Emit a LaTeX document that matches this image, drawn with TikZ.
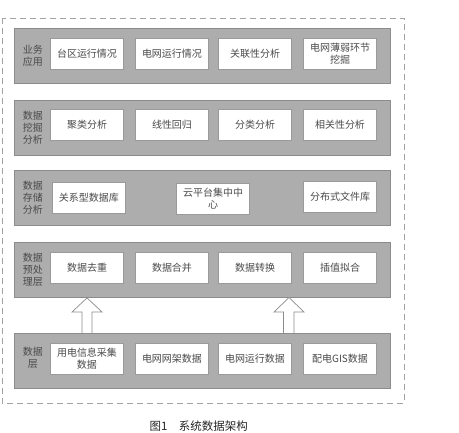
\documentclass[tikz,border=0pt]{standalone}
\usepackage{fontspec}
\newfontfamily\cjk{Noto Sans CJK SC}
\definecolor{bandfill}{HTML}{ADADAD}
\definecolor{bandline}{HTML}{8C8C8C}
\definecolor{cellline}{HTML}{9A9A9A}
\definecolor{txt}{HTML}{4A4A4A}
\begin{document}
\begin{tikzpicture}[x=1pt,y=-1pt,
  band/.style={draw=bandline,line width=0.8pt,fill=bandfill,minimum width=376pt,minimum height=55pt,inner sep=0pt},
  cell/.style={draw=cellline,line width=0.6pt,fill=white,minimum width=73pt,minimum height=31pt,inner sep=1pt,align=center,font=\cjk\fontsize{10}{11.5}\selectfont,text=txt},
  lbl/.style={align=center,font=\cjk\fontsize{10}{12}\selectfont,text=txt,inner sep=0pt},
  hollow/.style={draw=bandline,line width=0.7pt,fill=white},
  outer/.style={draw=bandline!80,dashed,dash pattern=on 6pt off 4pt,line width=0.6pt}]
\useasboundingbox (0,0) rectangle (459,433);
\draw[outer] (2,18) rectangle (404,403);
% bands
\node[band] (b1) at (202,55.5) {};
\node[band] (b2) at (202,127.5) {};
\node[band] (b3) at (202,198) {};
\node[band] (b4) at (202,270) {};
\node[band] (b5) at (202,360.5) {};
% labels
\node[lbl] (l1) at (33,55.5) {业务\\应用};
\node[lbl] (l2) at (33,127.5) {数据\\挖掘\\分析};
\node[lbl] (l3) at (33,198) {数据\\存储\\分析};
\node[lbl] (l4) at (33,270) {数据\\预处\\理层};
\node[lbl] (l5) at (33,358) {数据\\层};
% row 1
\node[cell] (c11) at (87,53.5) {台区运行情况};
\node[cell] (c12) at (172,53.5) {电网运行情况};
\node[cell] (c13) at (255,53.5) {关联性分析};
\node[cell] (c14) at (340,53.5) {电网薄弱环节\\挖掘};
% row 2
\node[cell] (c21) at (87,125) {聚类分析};
\node[cell] (c22) at (172,125) {线性回归};
\node[cell] (c23) at (255,125) {分类分析};
\node[cell] (c24) at (340,125) {相关性分析};
% row 3
\node[cell] (c31) at (89,198) {关系型数据库};
\node[cell] (c32) at (213,198.5) {云平台集中中\\心};
\node[cell] (c34) at (340,197) {分布式文件库};
% row 4
\node[cell] (c41) at (87,267.5) {数据去重};
\node[cell] (c42) at (172,267.5) {数据合并};
\node[cell] (c43) at (255,267.5) {数据转换};
\node[cell] (c44) at (340,267.5) {插值拟合};
% row 5
\node[cell] (c51) at (87,358.5) {用电信息采集\\数据};
\node[cell] (c52) at (172,358.5) {电网网架数据};
\node[cell] (c53) at (255,358.5) {电网运行数据};
\node[cell] (c54) at (340,358.5) {配电GIS数据};
% hollow arrows from data layer to preprocessing layer
\coordinate (t1) at (b4.south -| c41.south);
\coordinate (t2) at (289,297.5);
\draw[hollow] (82,333) -- (82,312) -- (72,312) -- (t1) -- (102,312) -- (92,312) -- (92,333);
\draw[hollow] (283.5,333) -- (283.5,312) -- (274,312) -- (t2) -- (304,312) -- (294,312) -- (294,333);
% caption
\node[font=\cjk\fontsize{11.5}{13}\selectfont,text=black!85,anchor=west] (cap) at (146,426) {图1\hspace{1em}系统数据架构};
\end{tikzpicture}
\end{document}
